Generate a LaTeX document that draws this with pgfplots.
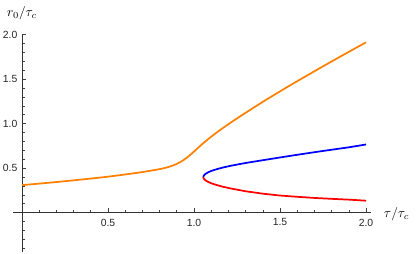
\documentclass[border=0pt]{standalone}
\usepackage{fontspec}
\setmainfont{Liberation Sans}
\usepackage{pgfplots}
\pgfplotsset{compat=1.18}
\definecolor{mmaorange}{RGB}{255,128,0}
\begin{document}
\begin{tikzpicture}
\path[use as bounding box] (-10.05pt,-1.575pt) rectangle (302.7pt,188.9pt);
\begin{axis}[
  scale only axis,
  width=268.35pt, height=163.5pt,
  xmin=-0.05, xmax=2.03,
  ymin=-0.44, ymax=2.01,
  axis lines=middle,
  every inner x axis line/.append style={-},
  every inner y axis line/.append style={-},
  axis line style={black!80, line width=0.6pt},
  xtick={0.5,1,1.5,2},
  ytick={0.5,1,1.5,2},
  minor xtick={0.1,0.2,0.3,0.4,0.6,0.7,0.8,0.9,1.1,1.2,1.3,1.4,1.6,1.7,1.8,1.9},
  minor ytick={-0.4,-0.3,-0.2,-0.1,0.1,0.2,0.3,0.4,0.6,0.7,0.8,0.9,1.1,1.2,1.3,1.4,1.6,1.7,1.8,1.9},
  tick align=inside,
  major tick length=3.2pt,
  minor tick length=1.9pt,
  tick style={black!75, line width=0.5pt},
  /pgf/number format/assume math mode=true,
  /pgf/number format/.cd, fixed, fixed zerofill, precision=1, /pgfplots/.cd,
  tick label style={font=\fontsize{7.8}{9}\selectfont, text=black!85},
  xticklabel style={yshift=-1pt},
  xlabel={$\tau/\tau_c$},
  ylabel={$r_0/\tau_c$},
  label style={font=\fontsize{10}{12}\selectfont},
  every axis x label/.style={at={(axis cs:2.03,0)}, anchor=west, xshift=6pt, yshift=-1pt},
  every axis y label/.style={at={(axis cs:0,2.01)}, anchor=south, yshift=7pt},
  clip=false,
]
\addplot[mmaorange, line width=1.3pt, smooth] coordinates {
(0,0.31) (0.1,0.327) (0.2,0.345) (0.3,0.364) (0.4,0.384) (0.5,0.405)
(0.6,0.43) (0.7,0.457) (0.8,0.49) (0.85,0.513) (0.88,0.533) (0.90,0.549)
(0.92,0.569) (0.94,0.593) (0.96,0.621) (0.98,0.653) (1.0,0.688) (1.05,0.775)
(1.1,0.855) (1.15,0.927) (1.2,0.995) (1.25,1.060) (1.3,1.123) (1.4,1.246)
(1.5,1.364) (1.6,1.478) (1.7,1.590) (1.8,1.700) (1.9,1.808) (2.0,1.915)
};
\addplot[blue, line width=1.3pt] coordinates {
(1.054,0.400) (1.055,0.410) (1.058,0.420) (1.065,0.434) (1.08,0.452) (1.10,0.469)
(1.13,0.488) (1.17,0.509) (1.22,0.530) (1.3,0.559) (1.4,0.590) (1.5,0.621)
(1.6,0.651) (1.7,0.680) (1.8,0.708) (1.9,0.735) (2.0,0.767)
};
\addplot[red, line width=1.3pt] coordinates {
(1.054,0.400) (1.055,0.390) (1.058,0.380) (1.065,0.366) (1.08,0.348) (1.10,0.331)
(1.13,0.312) (1.17,0.291) (1.22,0.270) (1.3,0.241) (1.4,0.214) (1.5,0.193)
(1.6,0.179) (1.7,0.166) (1.8,0.156) (1.9,0.147) (2.0,0.135)
};
\end{axis}
\end{tikzpicture}
\end{document}
